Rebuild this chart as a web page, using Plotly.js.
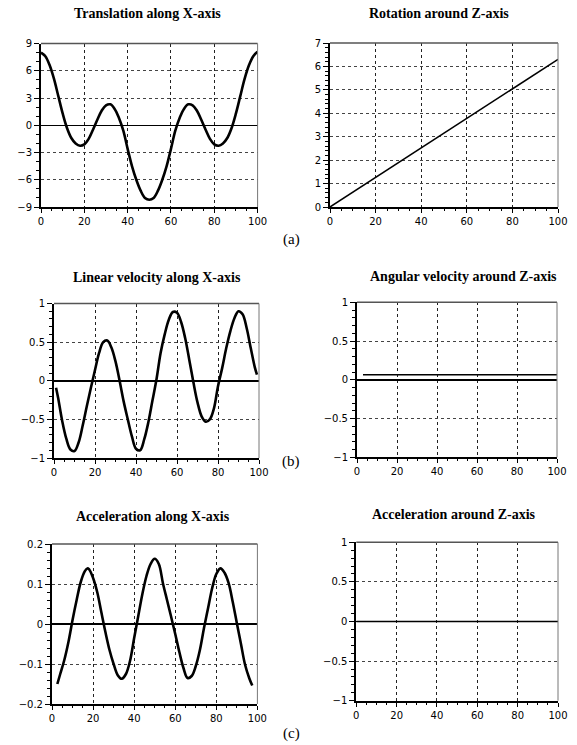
<!DOCTYPE html>
<html><head><meta charset="utf-8">
<script src="https://cdn.plot.ly/plotly-3.0.1.min.js"></script>
<style>html,body{margin:0;padding:0;background:#fff}#chart{width:577px;height:745px}</style>
</head><body><div id="chart"></div>
<script>
// ---------- data ----------
const titles = ["Translation along X-axis","Rotation around Z-axis","Linear velocity along X-axis","Angular velocity around Z-axis","Acceleration along X-axis","Acceleration around Z-axis"];
const panelLabels = ["(a)","(b)","(c)"];
const xTicks = [0,20,40,60,80,100];

const transX = [0,2,4,6,8,10,12,14,16,18,20,22,24,26,28,30,32,34,36,38,40,42,44,46,48,50,52,54,56,58,60,62,64,66,68,70,72,74,76,78,80,82,84,86,88,90,92,94,96,98,100];
const transY = [8.0,7.6,6.6,5.1,3.2,1.3,-0.3,-1.4,-2.0,-2.25,-2.1,-1.5,-0.5,0.6,1.6,2.2,2.3,1.8,0.8,-0.6,-2.6,-4.5,-6.0,-7.2,-8.0,-8.2,-8.0,-7.2,-6.0,-4.5,-2.6,-0.6,0.8,1.8,2.3,2.2,1.6,0.6,-0.5,-1.5,-2.1,-2.25,-2.0,-1.4,-0.3,1.3,3.2,5.1,6.6,7.6,8.1];

const rotX = [0,20,40,60,80,100];
const rotY = [0,1.26,2.52,3.78,5.04,6.3];

const linVelX = [1,2,4,6,8,10,12,14,16,18,20,22,24,26,28,30,32,34,36,38,40,42,44,46,48,50,52,54,56,58,60,62,64,66,68,70,72,74,76,78,80,82,84,86,88,90,92,94,96,98,99];
const linVelY = [-0.09,-0.22,-0.52,-0.75,-0.89,-0.91,-0.80,-0.58,-0.33,-0.09,0.14,0.36,0.50,0.52,0.43,0.25,0.00,-0.27,-0.50,-0.72,-0.88,-0.90,-0.76,-0.54,-0.26,0.02,0.36,0.60,0.79,0.89,0.88,0.76,0.55,0.27,-0.02,-0.28,-0.46,-0.53,-0.50,-0.36,-0.07,0.16,0.42,0.64,0.81,0.90,0.86,0.68,0.42,0.17,0.08];

const angVelX = [3,100];
const angVelY = [0.065,0.065];

const accX = [2.6,4,6,8,10,12,14,16,17.2,18,20,22,24,26,28,30,32,34,36,38,40,42,44,46,48,50,52,54,56,58,60,62,64,66,68,70,72,74,76,78,80,82,84,86,88,90,92,94,96,97.5];
const accY = [-0.150,-0.125,-0.090,-0.045,0.010,0.060,0.105,0.132,0.139,0.137,0.115,0.080,0.030,-0.020,-0.065,-0.100,-0.128,-0.137,-0.125,-0.092,-0.035,0.020,0.075,0.120,0.150,0.163,0.150,0.102,0.060,0.018,-0.025,-0.070,-0.110,-0.135,-0.130,-0.105,-0.065,-0.010,0.040,0.090,0.125,0.139,0.128,0.102,0.055,0.002,-0.050,-0.102,-0.135,-0.154];

const angAccX = [0,100];
const angAccY = [0,0];

// ---------- layout ----------
const W = 577, H = 745;
const panels = [
  {px:[41,257.6], py:[43.5,207], yr:[-9,9], dt:3, mn:1, xs:transX, ys:transY, lw:2.6, spline:true},
  {px:[330,558], py:[43,207], yr:[0,7], dt:1, mn:0.2, xs:rotX, ys:rotY, lw:1.5, spline:false},
  {px:[54,259], py:[303.5,458], yr:[-1,1], dt:0.5, mn:0.1, xs:linVelX, ys:linVelY, lw:2.6, spline:true},
  {px:[357,557], py:[302.3,457.3], yr:[-1,1], dt:0.5, mn:0.1, xs:angVelX, ys:angVelY, lw:1.5, spline:false},
  {px:[52,257.4], py:[544,704], yr:[-0.2,0.2], dt:0.1, mn:0.02, xs:accX, ys:accY, lw:2.6, spline:true},
  {px:[356.3,558], py:[542.3,700.7], yr:[-1,1], dt:0.5, mn:0.1, xs:angAccX, ys:angAccY, lw:1.5, spline:false}
];
const titlePos = [[147,14],[439,14],[157,277],[463,276],[153,516],[454,514]];
const labelPos = [[291,239],[291,461],[291,733]];

const tickFont = {family:'DejaVu Sans', size:10, color:'#000'};
const serifBold = {family:'Liberation Serif', size:14, color:'#000', weight:'bold'};
const serif = {family:'Liberation Serif', size:15, color:'#000'};

const data = [];
const layout = {
  width: W, height: H, margin:{l:0,r:0,t:0,b:0},
  paper_bgcolor:'#fff', plot_bgcolor:'#fff', showlegend:false,
  shapes:[], annotations:[]
};

panels.forEach((p,i)=>{
  const n = i===0 ? '' : String(i+1);
  data.push({
    x:p.xs, y:p.ys, xaxis:'x'+n, yaxis:'y'+n, type:'scatter', mode:'lines',
    line:{color:'#000', width:p.lw, shape:p.spline?'spline':'linear', smoothing:1},
    hoverinfo:'skip'
  });
  layout['xaxis'+n] = {
    domain:[p.px[0]/W, p.px[1]/W], range:[0,100], anchor:'y'+n,
    tickvals:xTicks, showline:true, linecolor:'#000', linewidth:2,
    ticks:'outside', ticklen:4, tickcolor:'#000', tickwidth:1,
    minor:{dtick:5, ticks:'outside', ticklen:2, tickcolor:'#000', showgrid:false},
    showgrid:true, gridcolor:'#222', griddash:'dot', gridwidth:1,
    zeroline:false, tickfont:tickFont, fixedrange:true
  };
  layout['yaxis'+n] = {
    domain:[1-p.py[1]/H, 1-p.py[0]/H], range:p.yr, anchor:'x'+n,
    dtick:p.dt, tick0:0, showline:true, linecolor:'#000', linewidth:2,
    ticks:'outside', ticklen:5, tickcolor:'#000', tickwidth:1,
    minor:{dtick:p.mn, ticks:'outside', ticklen:3, tickcolor:'#000', showgrid:false},
    showgrid:true, gridcolor:'#444', griddash:'dot', gridwidth:1,
    zeroline:true, zerolinecolor:'#000', zerolinewidth:1.5,
    tickfont:tickFont, fixedrange:true
  };
  const xr = 'x'+n+' domain', yr = 'y'+n+' domain';
  layout.shapes.push({type:'line', xref:xr, yref:yr, x0:0, x1:1, y0:1, y1:1, line:{color:'#555', width:1.5}});
  layout.shapes.push({type:'line', xref:xr, yref:yr, x0:1, x1:1, y0:0, y1:1, line:{color:'#777', width:1}});
  layout.annotations.push({text:titles[i], xref:'paper', yref:'paper',
    x:titlePos[i][0]/W, y:1-titlePos[i][1]/H, xanchor:'center', yanchor:'middle',
    showarrow:false, font:serifBold});
});
panelLabels.forEach((t,i)=>{
  layout.annotations.push({text:t, xref:'paper', yref:'paper',
    x:labelPos[i][0]/W, y:1-labelPos[i][1]/H, xanchor:'center', yanchor:'middle',
    showarrow:false, font:serif});
});

Plotly.newPlot('chart', data, layout, {staticPlot:true, displayModeBar:false});
</script>
</body></html>
